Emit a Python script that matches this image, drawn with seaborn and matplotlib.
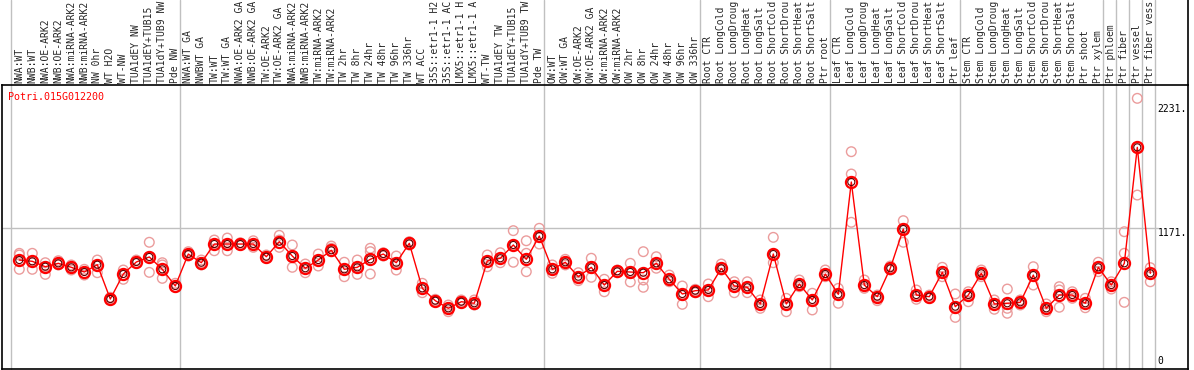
import matplotlib
matplotlib.use("Agg")
import matplotlib.pyplot as plt
import matplotlib.transforms as mtransforms
import pandas as pd
import seaborn as sns

# Sample names (top labels, shown cut to 14 characters as in the original)
samples = [
    "NWA:WT", "NWB:WT", "NWA:OE-ARK2", "NWB:OE-ARK2", "NWA:miRNA-ARK2", "NWB:miRNA-ARK2",
    "NW 0hr", "WT H2O", "WT-NW", "TUA1dEY NW", "TUA1dEY+TUB15 ", "TUA1dY+TUB9 NW", "Pde NW",
    "NWA:WT GA", "NWBWT GA", "TW:WT", "TW:WT GA", "NWA:OE-ARK2 GA", "NWB:OE-ARK2 GA",
    "TW:OE-ARK2", "TW:OE-ARK2 GA", "NWA:miRNA-ARK2", "NWB:miRNA-ARK2", "TW:miRNA-ARK2",
    "TW:miRNA-ARK2", "TW 2hr", "TW 8hr", "TW 24hr", "TW 48hr", "TW 96hr", "TW 336hr", "WT ACC",
    "35S::etr1-1 H2", "35S::etr1-1 AC", "LMX5::etr1-1 H", "LMX5::etr1-1 A", "WT-TW",
    "TUA1dEY TW", "TUA1dEY+TUB15 ", "TUA1dY+TUB9 TW", "Pde TW",
    "OW:WT", "OW:WT GA", "OW:OE-ARK2", "OW:OE-ARK2 GA", "OW:miRNA-ARK2", "OW:miRNA-ARK2",
    "OW 2hr", "OW 8hr", "OW 24hr", "OW 48hr", "OW 96hr", "OW 336hr",
    "Root CTR", "Root LongCold", "Root LongDroug", "Root LongHeat", "Root LongSalt",
    "Root ShortCold", "Root ShortDrou", "Root ShortHeat", "Root ShortSalt", "Ptr root",
    "Leaf CTR", "Leaf LongCold", "Leaf LongDroug", "Leaf LongHeat", "Leaf LongSalt",
    "Leaf ShortCold", "Leaf ShortDrou", "Leaf ShortHeat", "Leaf ShortSalt", "Ptr leaf",
    "Stem CTR", "Stem LongCold", "Stem LongDroug", "Stem LongHeat", "Stem LongSalt",
    "Stem ShortCold", "Stem ShortDrou", "Stem ShortHeat", "Stem ShortSalt", "Ptr shoot",
    "Ptr xylem", "Ptr phloem", "Ptr fiber", "Ptr vessel", "Ptr fiber vess",
]

# group boundaries (index of first sample in each new group)
group_starts = [0, 13, 41, 53, 63, 73, 84, 85, 86, 87, 88]

gene_name = "Potri.015G012200"
y_tick_values = [0, 1171, 2231]
y_tick_labels = ["0", "1171.", "2231."]

mean_expr = [
    902, 891, 845, 874, 840, 800, 862, 570, 783, 885, 928, 823, 681,
    953, 879, 1038, 1038, 1038, 1038, 930, 1058, 936, 832, 902, 985, 823, 840, 908, 953, 879,
    1044, 661, 556, 491, 547, 534, 894, 917, 1030, 908, 1106,
    823, 883, 760, 840, 689, 806, 800, 794, 874, 738, 613, 641,
    647, 832, 681, 670, 528, 953, 528, 698, 562, 783,
    610, 1566, 689, 590, 832, 1166, 604, 590, 797, 505,
    604, 789, 528, 534, 542, 774, 491, 604, 604, 534, 840,
    689, 874, 1861, 789,
]

rep_a = [
    959, 959, 879, 896, 860, 823, 902, 585, 817, 902, 1053, 879, 704,
    973, 902, 1072, 1089, 1049, 1066, 945, 1112, 1030, 868, 953, 1021, 883, 902, 1002, 964, 936,
    1058, 704, 568, 519, 562, 562, 945, 964, 1152, 1066, 1172,
    860, 908, 794, 917, 738, 817, 874, 973, 930, 774, 681, 653,
    698, 868, 717, 717, 562, 1095, 576, 732, 619, 817,
    661, 1824, 732, 604, 851, 1237, 647, 604, 840, 613,
    632, 817, 562, 655, 562, 845, 528, 675, 632, 576, 883,
    717, 1143, 2278, 837,
]
rep_b = [
    945, 891, 845, 874, 840, 789, 860, 570, 774, 879, 930, 860, 675,
    953, 879, 1038, 1038, 1038, 1038, 930, 1072, 936, 832, 902, 1002, 823, 840, 973, 953, 879,
    1044, 661, 556, 491, 547, 534, 894, 917, 1030, 959, 1106,
    823, 883, 760, 840, 689, 803, 800, 732, 874, 738, 613, 641,
    647, 832, 681, 670, 528, 953, 528, 698, 562, 783,
    610, 1634, 689, 590, 832, 1166, 604, 590, 797, 505,
    604, 789, 528, 491, 542, 774, 491, 647, 604, 534, 840,
    689, 959, 1861, 789,
]
rep_c = [
    823, 823, 780, 860, 817, 774, 794, 562, 738, 874, 797, 746, 670,
    936, 860, 981, 981, 1027, 1010, 917, 1010, 840, 794, 851, 973, 760, 780, 783, 936, 817,
    1030, 624, 545, 462, 534, 519, 845, 879, 883, 803, 1038,
    789, 860, 726, 755, 632, 794, 715, 670, 832, 717, 525, 624,
    590, 817, 624, 624, 491, 879, 462, 675, 477, 760,
    534, 1223, 661, 556, 817, 1053, 568, 576, 760, 414,
    547, 760, 483, 449, 519, 689, 462, 500, 576, 496, 803,
    655, 542, 1455, 717,
]

n = len(samples)
idx = list(range(n))
means = pd.DataFrame({"idx": idx, "expr": mean_expr})
reps = pd.DataFrame({
    "idx": idx * 3,
    "expr": rep_a + rep_b + rep_c,
})

sns.set_theme(style="white")
plt.rcParams["font.family"] = ["DejaVu Sans Mono"]

fig = plt.figure(figsize=(11.94, 3.70), dpi=100)
ax = fig.add_axes([2 / 1194, 1 / 370, 1186 / 1194, 284 / 370])

# replicates (light) then means (dark) on top
sns.scatterplot(data=reps, x="idx", y="expr", ax=ax, marker="o", s=48,
                facecolor="none", edgecolor="#eb9c9c", linewidth=1.0, zorder=3)
sns.lineplot(data=means, x="idx", y="expr", ax=ax, color="#ff0000", linewidth=1.0,
             marker="o", markersize=8, markerfacecolor="none", markeredgecolor="#ff0000",
             markeredgewidth=1.6, zorder=4)
sns.scatterplot(data=means, x="idx", y="expr", ax=ax, marker="o", s=26,
                facecolor="none", edgecolor="#600000", linewidth=0.8, zorder=5)

ax.set_xlim(-1.331, 89.9)
ax.set_ylim(-25.5, 2391.6)

# grid line at middle tick
ax.axhline(1171, xmin=0, xmax=(1158 - 2) / 1186, color="#c0c0c0", linewidth=1, zorder=1)

# group separators (extend up through label area)
top_ext = 369 / 284
for b in group_starts:
    ax.axvline(b - 0.64, ymin=0, ymax=top_ext, color="#c0c0c0", linewidth=1,
               clip_on=False, zorder=1)
trans = mtransforms.blended_transform_factory(ax.transAxes, ax.transAxes)
ax.plot([1, 1], [1, top_ext], color="black", linewidth=1.2, transform=trans, clip_on=False)

# sample labels on top
ax.xaxis.tick_top()
ax.set_xticks(idx, samples, rotation=90, fontsize=7.0)
ax.tick_params(axis="x", length=0, pad=1.2)
ax.set_yticks([])
ax.set_xlabel("")
ax.set_ylabel("")

for sp in ax.spines.values():
    sp.set_color("black")
    sp.set_linewidth(1.2)

# right side value labels inside plot
ytrans = mtransforms.blended_transform_factory(ax.transAxes, ax.transData)
for v, lab in zip(y_tick_values, y_tick_labels):
    ax.text(0.9745, v, lab, transform=ytrans, fontsize=7.0, color="black",
            ha="left", va="bottom" if v == 0 else "top", zorder=6)

ax.text(0.005, 0.958, gene_name, transform=ax.transAxes, fontsize=7.2,
        color="#ff0000", ha="left", va="center")

fig.savefig("out.png", dpi=100)
